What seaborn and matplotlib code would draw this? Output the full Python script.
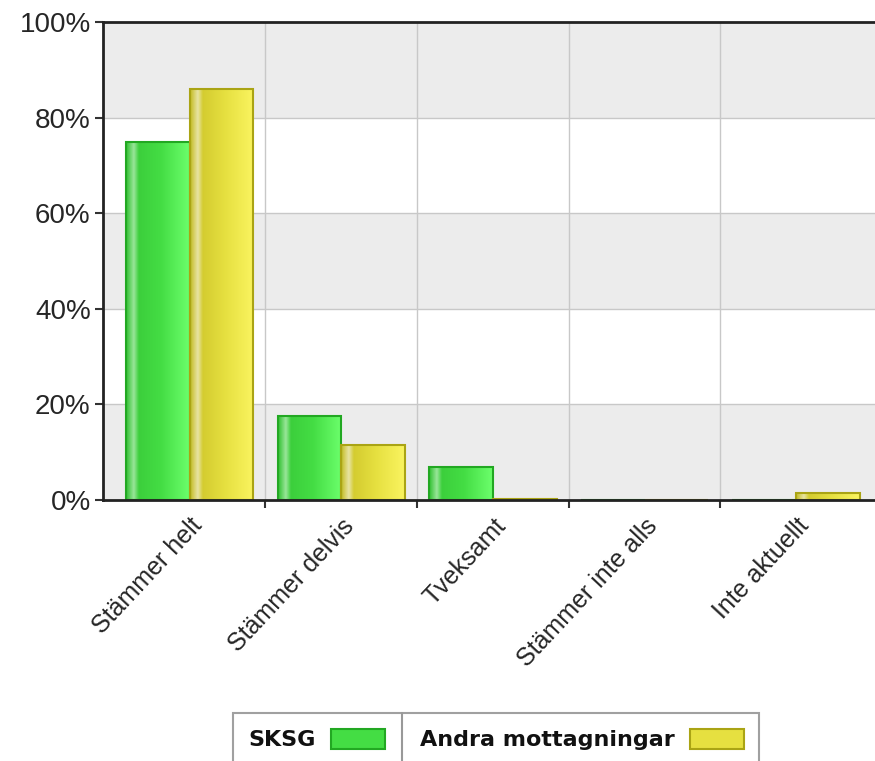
import numpy as np
import pandas as pd
import seaborn as sns
import matplotlib.pyplot as plt
from matplotlib.lines import Line2D
from matplotlib.colors import LinearSegmentedColormap

# svarsalternativ och andelar (%)
categories = ['Stämmer helt', 'Stämmer delvis', 'Tveksamt', 'Stämmer inte alls', 'Inte aktuellt']
sksg = [75.0, 17.5, 7.0, 0.0, 0.0]
andra = [86.0, 11.5, 0.3, 0.0, 1.5]
series_names = ['SKSG', 'Andra mottagningar']
y_ticks = [0, 20, 40, 60, 80, 100]

df = pd.DataFrame({
    'kategori': categories * 2,
    'andel': sksg + andra,
    'grupp': [series_names[0]] * len(categories) + [series_names[1]] * len(categories),
})

sns.set_style('white')
plt.rcParams['font.family'] = ['Liberation Sans', 'DejaVu Sans']

fig = plt.figure(figsize=(8.75, 7.61), dpi=100)
ax = fig.add_axes([0.118, 0.343, 0.882, 0.628])

# grå band i bakgrunden
for lo in (0, 40, 80):
    ax.axhspan(lo, lo + 20, facecolor='#ececec', edgecolor='none', zorder=0)
for y in y_ticks[1:-1]:
    ax.axhline(y, color='#c8c8c8', lw=1, zorder=0.5)
for x in np.arange(0.5, len(categories) - 0.5, 1):
    ax.axvline(x, color='#c8c8c8', lw=1, zorder=0.5)

palette = {'SKSG': '#44dd44', 'Andra mottagningar': '#e6e040'}
edge_cols = {'SKSG': '#22a822', 'Andra mottagningar': '#aaa414'}
sns.barplot(data=df, x='kategori', y='andel', hue='grupp', palette=palette,
            width=0.84, ax=ax, zorder=2, saturation=1)

# glansig gradient i staplarna (som i originalet)
grads = {
    'SKSG': LinearSegmentedColormap.from_list('g', [
        (0.0, '#30c030'), (0.12, '#9ae69a'), (0.2, '#3ccf3c'), (0.55, '#44dd44'), (1.0, '#6cff6c')]),
    'Andra mottagningar': LinearSegmentedColormap.from_list('y', [
        (0.0, '#c4bc22'), (0.12, '#e8e4a4'), (0.2, '#d4cc30'), (0.55, '#e6e040'), (1.0, '#faf460')]),
}
ramp = np.linspace(0, 1, 200).reshape(1, -1)
for cont, name in zip(ax.containers, series_names):
    for bar in cont:
        bar.set_edgecolor(edge_cols[name])
        bar.set_linewidth(1.5)
        h = bar.get_height()
        if h <= 0:
            continue
        x0 = bar.get_x()
        im = ax.imshow(ramp, cmap=grads[name], aspect='auto', zorder=2.1,
                       extent=[x0, x0 + bar.get_width(), 0, h], interpolation='bilinear')
        im.set_clip_path(bar)
        bar.set_facecolor('none')
        bar.set_zorder(2.2)

ax.set_xlim(-0.57, 4.52)
ax.set_ylim(0, 100)
ax.set_yticks(y_ticks)
ax.set_yticklabels([f'{v}%' for v in y_ticks], fontsize=20)
ax.set_xticks(range(len(categories)))
ax.set_xticklabels(categories, rotation=47, ha='right', rotation_mode='anchor', fontsize=18)
ax.set_xticks(np.arange(0.5, len(categories) - 0.5, 1), minor=True)
ax.tick_params(axis='x', which='major', length=0, pad=10)
ax.tick_params(axis='x', which='minor', length=6, width=1.5, color='#333333', direction='out', bottom=True)
ax.tick_params(axis='y', length=6, width=1.5, color='#333333', direction='out', left=True, pad=3)
ax.set_xlabel('')
ax.set_ylabel('')

for side in ('left', 'bottom', 'top'):
    ax.spines[side].set_color('#222222')
    ax.spines[side].set_linewidth(2)
ax.spines['right'].set_visible(False)

handles, labels = ax.get_legend_handles_labels()
ax.get_legend().remove()
leg = fig.legend(handles, labels, loc='upper left', bbox_to_anchor=(0.266, 0.063),
                 ncol=2, markerfirst=False, frameon=True, fancybox=False,
                 prop={'family': 'DejaVu Sans', 'weight': 'bold', 'size': 16},
                 handlelength=2.4, handleheight=1.0, columnspacing=1.6,
                 borderpad=0.7, handletextpad=0.7, borderaxespad=0)
leg.get_frame().set_edgecolor('#888888')
leg.get_frame().set_linewidth(1.5)
for h, name in zip(leg.legend_handles, series_names):
    h.set_facecolor(palette[name])
    h.set_edgecolor(edge_cols[name])
    h.set_linewidth(1.5)
for t in leg.get_texts():
    t.set_color('#111111')

# skiljelinje mellan legendens två poster
fig.canvas.draw()
inv = fig.transFigure.inverted()
t_box = leg.get_texts()[1].get_window_extent()
h_box = leg.legend_handles[0].get_window_extent()
frame = leg.get_frame().get_window_extent()
x_div = (h_box.x1 + t_box.x0) / 2
x0, y0 = inv.transform((x_div, frame.y0))
_, y1 = inv.transform((x_div, frame.y1))
fig.add_artist(Line2D([x0, x0], [y0, y1], transform=fig.transFigure, color='#999999', lw=1.5, zorder=10))

fig.savefig('out.png', dpi=100)
